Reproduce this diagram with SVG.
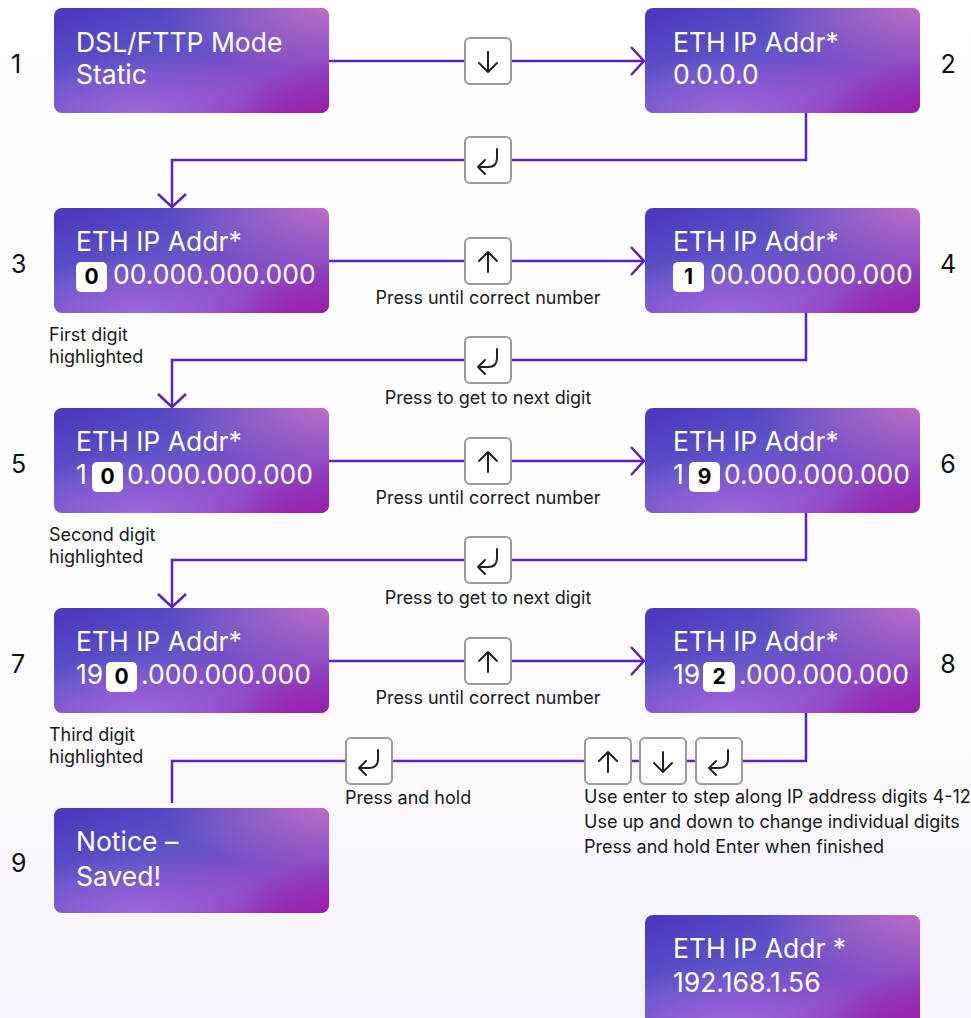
<svg xmlns="http://www.w3.org/2000/svg" width="971" height="1018" viewBox="0 0 971 1018">
<defs>
<linearGradient id="pg" x1="0" y1="0" x2="0" y2="1"><stop offset="0" stop-color="#ffffff"/><stop offset="0.6" stop-color="#fdfcfe"/><stop offset="1" stop-color="#f7f3fc"/></linearGradient>
<linearGradient id="gBase" x1="0" y1="0" x2="1" y2="1"><stop offset="0" stop-color="#4a36bd"/><stop offset="0.4" stop-color="#5e54c8"/><stop offset="0.7" stop-color="#8a4cc6"/><stop offset="1" stop-color="#9a24ae"/></linearGradient>
<radialGradient id="gTR" cx="1" cy="0" r="0.6"><stop offset="0" stop-color="#c06cc6" stop-opacity="0.95"/><stop offset="1" stop-color="#c06cc6" stop-opacity="0"/></radialGradient>
<radialGradient id="gBL" cx="0.3" cy="1" r="0.55"><stop offset="0" stop-color="#a26ade" stop-opacity="0.85"/><stop offset="1" stop-color="#a26ade" stop-opacity="0"/></radialGradient>
<radialGradient id="gBR" cx="1" cy="1" r="0.35"><stop offset="0" stop-color="#9a20aa" stop-opacity="0.8"/><stop offset="1" stop-color="#9a20aa" stop-opacity="0"/></radialGradient>
<marker id="arr" markerUnits="userSpaceOnUse" markerWidth="30" markerHeight="34" refX="15" refY="17" orient="auto" viewBox="0 0 30 34"><path d="M2,3 L15,17 L2,31" fill="none" stroke="#5a22c0" stroke-width="2.5"/></marker>
</defs>
<style>
.page{fill:url(#pg)}
.b0{fill:url(#gBase)}.b1{fill:url(#gTR)}.b2{fill:url(#gBL)}.b3{fill:url(#gBR)}
.t{font-family:Inter,"Open Sans",sans-serif;font-size:26.5px;fill:#ffffff}
.num{font-family:Inter,"Open Sans",sans-serif;font-size:25px;fill:#111111}
.hl{fill:#ffffff}
.hd{font-family:Inter,"Open Sans",sans-serif;font-size:21px;font-weight:700;fill:#000000;text-anchor:middle}
.lbl{font-family:Inter,"Open Sans",sans-serif;font-size:18px;fill:#1a1a1a}
.lc{text-anchor:middle}
.conn path{fill:none;stroke:#5a22c0;stroke-width:2.5}
.key rect{fill:#ffffff;stroke:#9a9a9e;stroke-width:2}
.key path{fill:none;stroke:#222222;stroke-width:2;stroke-linecap:round;stroke-linejoin:round}
</style>
<rect class="page" x="0" y="0" width="971" height="1018"/>

<g id="connectors" class="conn">
<path d="M329,61 H644" marker-end="url(#arr)"/>
<path d="M806,113 V160 H172 V207" marker-end="url(#arr)"/>
<path d="M329,261 H644" marker-end="url(#arr)"/>
<path d="M806,313 V360 H172 V407" marker-end="url(#arr)"/>
<path d="M329,461 H644" marker-end="url(#arr)"/>
<path d="M806,513 V560 H172 V607" marker-end="url(#arr)"/>
<path d="M329,661 H644" marker-end="url(#arr)"/>
<path d="M806,713 V761 H172 V803"/>
</g>

<g id="keys">
<g class="key" id="key-down-1"><rect x="465" y="38" width="46" height="46" rx="5"/><path d="M488,52 V72 M479,63 L488,72 L497,63"/></g>
<g class="key" id="key-enter-1"><rect x="465" y="137" width="46" height="46" rx="5"/><path d="M497,149 V158 Q497,167 488,167 H478 M485,160 L478,167 L485,174"/></g>
<g class="key" id="key-up-1"><rect x="465" y="238" width="46" height="46" rx="5"/><path d="M488,272 V252 M479,261 L488,252 L497,261"/></g>
<g class="key" id="key-enter-2"><rect x="465" y="337" width="46" height="46" rx="5"/><path d="M497,349 V358 Q497,367 488,367 H478 M485,360 L478,367 L485,374"/></g>
<g class="key" id="key-up-2"><rect x="465" y="438" width="46" height="46" rx="5"/><path d="M488,472 V452 M479,461 L488,452 L497,461"/></g>
<g class="key" id="key-enter-3"><rect x="465" y="537" width="46" height="46" rx="5"/><path d="M497,549 V558 Q497,567 488,567 H478 M485,560 L478,567 L485,574"/></g>
<g class="key" id="key-up-3"><rect x="465" y="638" width="46" height="46" rx="5"/><path d="M488,672 V652 M479,661 L488,652 L497,661"/></g>
<g class="key" id="key-enter-4"><rect x="346" y="738" width="46" height="46" rx="5"/><path d="M378,750 V759 Q378,768 369,768 H359 M366,761 L359,768 L366,775"/></g>
<g class="key" id="key-up-4"><rect x="585" y="738" width="46" height="46" rx="5"/><path d="M608,772 V752 M599,761 L608,752 L617,761"/></g>
<g class="key" id="key-down-4"><rect x="640" y="738" width="46" height="46" rx="5"/><path d="M663,752 V772 M654,763 L663,772 L672,763"/></g>
<g class="key" id="key-enter-5"><rect x="696" y="738" width="46" height="46" rx="5"/><path d="M728,750 V759 Q728,768 719,768 H709 M716,761 L709,768 L716,775"/></g>
</g>

<g id="labels">
<text class="lbl lc" x="488" y="304">Press until correct number</text>
<text class="lbl lc" x="488" y="404">Press to get to next digit</text>
<text class="lbl lc" x="488" y="504">Press until correct number</text>
<text class="lbl lc" x="488" y="604">Press to get to next digit</text>
<text class="lbl lc" x="488" y="704">Press until correct number</text>
<text class="lbl" x="345" y="804">Press and hold</text>
<text class="lbl" x="584" y="803">Use enter to step along IP address digits 4-12</text>
<text class="lbl" x="584" y="828">Use up and down to change individual digits</text>
<text class="lbl" x="584" y="853">Press and hold Enter when finished</text>
<text class="lbl" x="49" y="341">First digit</text>
<text class="lbl" x="49" y="363">highlighted</text>
<text class="lbl" x="49" y="541">Second digit</text>
<text class="lbl" x="49" y="563">highlighted</text>
<text class="lbl" x="49" y="741">Third digit</text>
<text class="lbl" x="49" y="763">highlighted</text>
</g>

<g id="step-numbers">
<text class="num" x="11" y="73">1</text>
<text class="num" x="948" y="73" text-anchor="middle">2</text>
<text class="num" x="11" y="273">3</text>
<text class="num" x="948" y="273" text-anchor="middle">4</text>
<text class="num" x="11" y="473">5</text>
<text class="num" x="948" y="473" text-anchor="middle">6</text>
<text class="num" x="11" y="673">7</text>
<text class="num" x="948" y="673" text-anchor="middle">8</text>
<text class="num" x="11" y="872">9</text>
</g>

<g id="node1">
<rect class="b0" x="54" y="8" width="275" height="105" rx="8"/><rect class="b1" x="54" y="8" width="275" height="105" rx="8"/><rect class="b2" x="54" y="8" width="275" height="105" rx="8"/><rect class="b3" x="54" y="8" width="275" height="105" rx="8"/>
<text class="t" x="76" y="52">DSL/FTTP Mode</text>
<text class="t" x="76" y="84">Static</text>
</g>
<g id="node2">
<rect class="b0" x="645" y="8" width="275" height="105" rx="8"/><rect class="b1" x="645" y="8" width="275" height="105" rx="8"/><rect class="b2" x="645" y="8" width="275" height="105" rx="8"/><rect class="b3" x="645" y="8" width="275" height="105" rx="8"/>
<text class="t" x="673" y="52">ETH IP Addr*</text>
<text class="t" x="673" y="84">0.0.0.0</text>
</g>
<g id="node3">
<rect class="b0" x="54" y="208" width="275" height="105" rx="8"/><rect class="b1" x="54" y="208" width="275" height="105" rx="8"/><rect class="b2" x="54" y="208" width="275" height="105" rx="8"/><rect class="b3" x="54" y="208" width="275" height="105" rx="8"/>
<text class="t" x="76" y="251">ETH IP Addr*</text>
<rect class="hl" x="76" y="262" width="31" height="30" rx="5"/><text class="hd" x="91.5" y="284">0</text>
<text class="t" x="113" y="284">00.000.000.000</text>
</g>
<g id="node4">
<rect class="b0" x="645" y="208" width="275" height="105" rx="8"/><rect class="b1" x="645" y="208" width="275" height="105" rx="8"/><rect class="b2" x="645" y="208" width="275" height="105" rx="8"/><rect class="b3" x="645" y="208" width="275" height="105" rx="8"/>
<text class="t" x="673" y="251">ETH IP Addr*</text>
<rect class="hl" x="673" y="262" width="31" height="30" rx="5"/><text class="hd" x="688.5" y="284">1</text>
<text class="t" x="710" y="284">00.000.000.000</text>
</g>
<g id="node5">
<rect class="b0" x="54" y="408" width="275" height="105" rx="8"/><rect class="b1" x="54" y="408" width="275" height="105" rx="8"/><rect class="b2" x="54" y="408" width="275" height="105" rx="8"/><rect class="b3" x="54" y="408" width="275" height="105" rx="8"/>
<text class="t" x="76" y="451">ETH IP Addr*</text>
<text class="t" x="76" y="484">1</text>
<rect class="hl" x="92" y="462" width="31" height="30" rx="5"/><text class="hd" x="107.5" y="484">0</text>
<text class="t" x="127" y="484">0.000.000.000</text>
</g>
<g id="node6">
<rect class="b0" x="645" y="408" width="275" height="105" rx="8"/><rect class="b1" x="645" y="408" width="275" height="105" rx="8"/><rect class="b2" x="645" y="408" width="275" height="105" rx="8"/><rect class="b3" x="645" y="408" width="275" height="105" rx="8"/>
<text class="t" x="673" y="451">ETH IP Addr*</text>
<text class="t" x="673" y="484">1</text>
<rect class="hl" x="689" y="462" width="31" height="30" rx="5"/><text class="hd" x="704.5" y="484">9</text>
<text class="t" x="724" y="484">0.000.000.000</text>
</g>
<g id="node7">
<rect class="b0" x="54" y="608" width="275" height="105" rx="8"/><rect class="b1" x="54" y="608" width="275" height="105" rx="8"/><rect class="b2" x="54" y="608" width="275" height="105" rx="8"/><rect class="b3" x="54" y="608" width="275" height="105" rx="8"/>
<text class="t" x="76" y="651">ETH IP Addr*</text>
<text class="t" x="76" y="684">19</text>
<rect class="hl" x="106" y="662" width="31" height="30" rx="5"/><text class="hd" x="121.5" y="684">0</text>
<text class="t" x="141" y="684">.000.000.000</text>
</g>
<g id="node8">
<rect class="b0" x="645" y="608" width="275" height="105" rx="8"/><rect class="b1" x="645" y="608" width="275" height="105" rx="8"/><rect class="b2" x="645" y="608" width="275" height="105" rx="8"/><rect class="b3" x="645" y="608" width="275" height="105" rx="8"/>
<text class="t" x="673" y="651">ETH IP Addr*</text>
<text class="t" x="673" y="684">19</text>
<rect class="hl" x="703" y="662" width="32" height="30" rx="5"/><text class="hd" x="719" y="684">2</text>
<text class="t" x="739" y="684">.000.000.000</text>
</g>
<g id="node9">
<rect class="b0" x="54" y="808" width="275" height="105" rx="8"/><rect class="b1" x="54" y="808" width="275" height="105" rx="8"/><rect class="b2" x="54" y="808" width="275" height="105" rx="8"/><rect class="b3" x="54" y="808" width="275" height="105" rx="8"/>
<text class="t" x="76" y="851">Notice –</text>
<text class="t" x="76" y="886">Saved!</text>
</g>
<g id="node10">
<rect class="b0" x="645" y="915" width="275" height="110" rx="8"/><rect class="b1" x="645" y="915" width="275" height="110" rx="8"/><rect class="b2" x="645" y="915" width="275" height="110" rx="8"/><rect class="b3" x="645" y="915" width="275" height="110" rx="8"/>
<text class="t" x="673" y="958">ETH IP Addr *</text>
<text class="t" x="673" y="992">192.168.1.56</text>
</g>
</svg>
